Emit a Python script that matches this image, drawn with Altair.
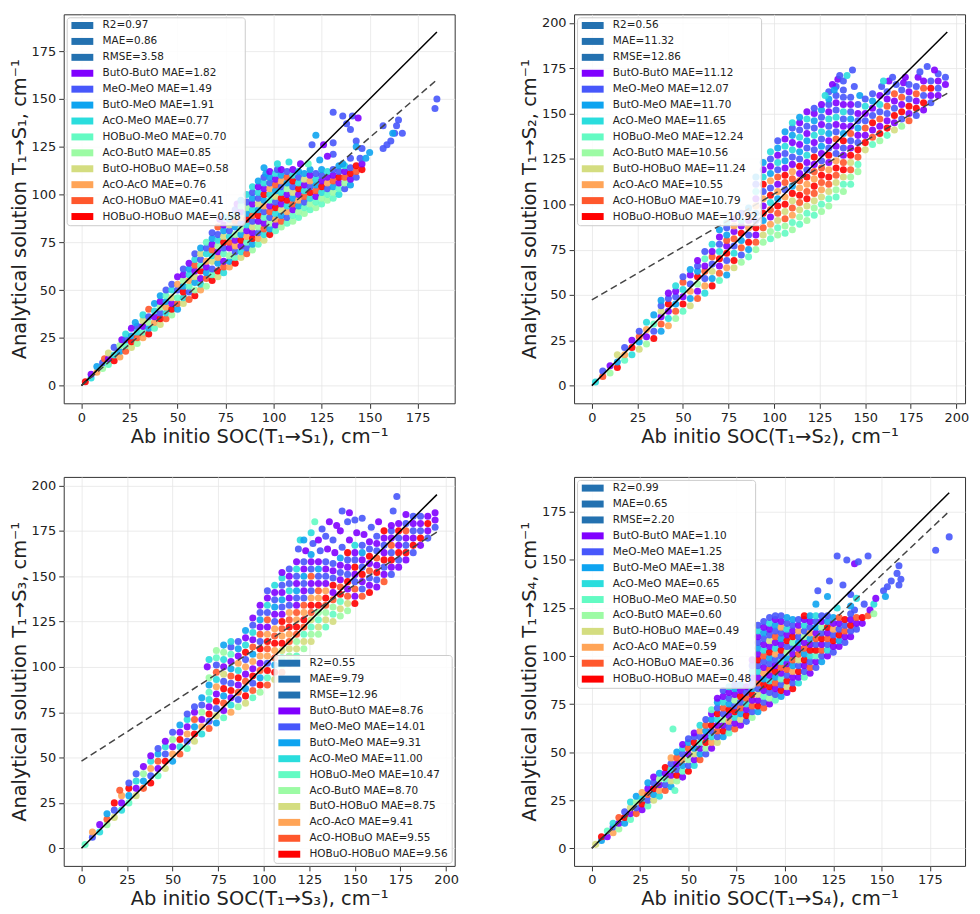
import altair as alt
import pandas as pd

FONT = "DejaVu Sans"

GROUPS = ["ButO-ButO", "MeO-MeO", "ButO-MeO", "AcO-MeO", "HOBuO-MeO",
          "AcO-ButO", "ButO-HOBuO", "AcO-AcO", "AcO-HOBuO", "HOBuO-HOBuO"]
GROUP_COLORS = ["#8000ff", "#4757fb", "#0ea4f0", "#2adddd", "#63fbc3",
                "#9cfba4", "#d4dd80", "#ffa457", "#ff572c", "#ff0000"]
STAT_COLOR = "#2371b0"

P1_STATS = ["R2=0.97", "MAE=0.86", "RMSE=3.58"]
P2_STATS = ["R2=0.56", "MAE=11.32", "RMSE=12.86"]
P3_STATS = ["R2=0.55", "MAE=9.79", "RMSE=12.96"]
P4_STATS = ["R2=0.99", "MAE=0.65", "RMSE=2.20"]

P1_MAE = ["1.82", "1.49", "1.91", "0.77", "0.70", "0.85", "0.58", "0.76", "0.41", "0.58"]
P2_MAE = ["11.12", "12.07", "11.70", "11.65", "12.24", "10.56", "11.24", "10.55", "10.79", "10.92"]
P3_MAE = ["8.76", "14.01", "9.31", "11.00", "10.47", "8.70", "8.75", "9.41", "9.55", "9.56"]
P4_MAE = ["1.10", "1.25", "1.38", "0.65", "0.50", "0.60", "0.49", "0.59", "0.36", "0.48"]

X_TITLES = ["Ab initio SOC(T\u2081\u2192S\u2081), cm\u207b\u00b9", "Ab initio SOC(T\u2081\u2192S\u2082), cm\u207b\u00b9",
            "Ab initio SOC(T\u2081\u2192S\u2083), cm\u207b\u00b9", "Ab initio SOC(T\u2081\u2192S\u2084), cm\u207b\u00b9"]
Y_TITLES = ["Analytical solution T\u2081\u2192S\u2081, cm\u207b\u00b9", "Analytical solution T\u2081\u2192S\u2082, cm\u207b\u00b9",
            "Analytical solution T\u2081\u2192S\u2083, cm\u207b\u00b9", "Analytical solution T\u2081\u2192S\u2084, cm\u207b\u00b9"]

TICKS_175 = [0, 25, 50, 75, 100, 125, 150, 175]
TICKS_200 = [0, 25, 50, 75, 100, 125, 150, 175, 200]

DOM1 = [-9.25, 194.25]
DOM2 = [-9.75, 204.75]
DOM3 = [-9.75, 204.75]
DOM4 = [-9.2, 193.2]

# identity line end and linear fit (dashed) end points per panel
SOLID1 = ([0, 185], [0, 185]); DASH1 = ([0, 185], [0, 160])
SOLID2 = ([0, 195], [0, 195]); DASH2 = ([0, 195], [47.3, 161.2])
SOLID3 = ([0, 195], [0, 195]); DASH3 = ([0, 195], [48, 174.4])
SOLID4 = ([0, 185], [0, 185]); DASH4 = ([0, 185], [0, 175.3])

# points: (ab initio, analytical, group index)
P1 = [
 (2,2,9),(5,4,3),(5,6,0),(8,7,7),(8,10,2),(11,9,5),(11,12,1),(12,14,8),
 (14,11,4),(14,14,0),(14,17,6),(17,13,9),(17,16,3),(17,20,1),
 (20,15,7),(20,18,2),(20,21,5),(21,24,0),(23,18,8),(23,21,4),(23,24,1),(23,27,3),
 (26,20,6),(26,23,9),(26,26,2),(26,30,0),(29,22,5),(29,25,8),(29,28,3),(29,31,1),(28,33,2),
 (32,25,7),(32,28,4),(32,31,0),(32,34,6),(32,37,3),(35,27,9),(35,30,2),(35,33,5),(35,36,1),(35,40,8),
 (38,30,4),(38,33,7),(38,36,0),(38,39,3),(38,43,2),(41,32,6),(41,35,9),(41,38,1),(41,41,5),(41,44,0),(41,47,2),
 (44,35,8),(44,38,3),(44,41,7),(44,44,2),(44,47,4),(44,50,1),(47,37,5),(47,40,9),(47,43,0),(47,46,6),(47,50,3),(47,53,1),
 (50,40,2),(50,43,8),(50,46,4),(50,50,1),(50,53,7),(50,57,0),
 (53,43,6),(53,46,3),(53,49,9),(53,52,2),(53,55,5),(53,58,0),(53,61,1),
 (56,45,8),(56,49,1),(56,52,4),(56,55,7),(56,58,3),(56,61,2),(56,64,0),
 (59,47,9),(59,50,5),(59,54,2),(59,57,6),(59,60,0),(59,63,8),(59,66,3),(59,69,1),
 (62,50,7),(62,53,3),(62,56,0),(62,60,9),(62,63,4),(62,66,1),(62,69,6),(62,72,2),
 (65,52,5),(65,56,8),(65,59,2),(65,62,0),(65,65,7),(65,69,3),(65,72,1),(65,75,4),
 (68,55,9),(68,58,4),(68,61,1),(68,65,6),(68,68,3),(68,71,8),(68,74,0),(68,77,2),(68,80,1),
 (71,57,6),(71,60,9),(71,64,2),(71,67,7),(71,70,0),(71,73,5),(71,76,3),(71,79,1),(71,83,8),(72,87,0),
 (74,59,3),(74,62,8),(74,65,0),(74,69,4),(74,72,1),(74,75,9),(74,78,6),(74,81,2),(74,84,0),(75,88,3),
 (77,62,7),(77,65,2),(77,68,5),(77,72,0),(77,75,8),(77,78,3),(77,81,1),(77,84,6),(77,87,2),
 (80,64,9),(80,67,4),(80,70,1),(80,73,7),(80,76,0),(80,79,5),(80,83,2),(80,86,8),(80,89,3),(80,92,1),(81,95,0),
 (83,67,6),(83,70,3),(83,73,0),(83,76,9),(83,79,2),(83,82,5),(83,85,1),(83,88,7),(83,91,0),(83,94,4),(83,97,2),
 (86,69,8),(86,72,1),(86,75,4),(86,78,7),(86,81,0),(86,84,3),(86,87,9),(86,90,2),(86,93,5),(86,96,1),(86,100,3),
 (89,71,5),(89,74,2),(89,77,9),(89,80,0),(89,83,6),(89,86,1),(89,89,8),(89,92,3),(89,95,0),(89,98,2),(89,101,1),(89,104,3),
 (92,74,4),(92,77,7),(92,80,1),(92,83,5),(92,86,0),(92,89,9),(92,92,2),(92,95,6),(92,98,1),(92,101,3),(92,104,0),(92,107,2),
 (95,76,6),(95,79,3),(95,82,8),(95,85,0),(95,88,4),(95,91,1),(95,94,7),(95,97,2),(95,100,9),(95,103,0),(95,106,3),(95,109,1),(96,111,2),
 (98,79,9),(98,82,2),(98,85,5),(98,88,1),(98,91,8),(98,94,0),(98,97,4),(98,100,3),(98,103,7),(98,106,1),(98,109,2),(98,112,0),
 (101,81,4),(101,84,0),(101,87,7),(101,90,3),(101,93,9),(101,96,1),(101,99,6),(101,102,2),(101,105,8),(101,108,0),(101,111,3),(102,113,1),
 (104,83,5),(104,86,8),(104,89,2),(104,92,6),(104,95,0),(104,98,9),(104,101,3),(104,104,1),(104,107,7),(104,110,2),(104,113,0),
 (107,85,4),(107,88,1),(107,91,7),(107,94,3),(107,97,9),(107,100,0),(107,103,5),(107,106,2),(107,109,8),(107,112,1),
 (110,86,5),(110,89,4),(110,92,0),(110,95,8),(110,98,2),(110,101,6),(110,104,1),(110,107,9),(110,110,3),(110,113,0),
 (113,88,4),(113,91,5),(113,94,2),(113,97,7),(113,100,0),(113,103,9),(113,106,3),(113,109,1),(113,112,2),
 (116,90,5),(116,93,4),(116,96,1),(116,99,8),(116,102,3),(116,105,0),(116,108,6),(116,111,2),
 (119,92,4),(119,95,5),(119,98,3),(119,101,9),(119,104,1),(119,107,7),(119,110,0),(119,113,2),
 (122,93,5),(122,96,4),(122,99,0),(122,102,8),(122,105,2),(122,108,3),(122,111,1),
 (125,95,4),(125,98,5),(125,101,3),(125,104,9),(125,107,0),(125,110,1),(125,113,2),
 (128,97,5),(128,100,4),(128,103,1),(128,106,7),(128,109,0),(128,112,3),
 (131,98,4),(131,101,5),(131,104,2),(131,107,8),(131,110,0),(131,113,1),
 (134,100,3),(134,103,4),(134,106,0),(134,109,9),(134,112,1),(134,115,2),
 (137,103,1),(137,106,5),(137,109,8),(137,112,0),(137,115,3),
 (140,105,2),(140,108,0),(140,111,9),(140,114,1),(143,109,1),(143,112,8),(143,115,9),(146,113,9),(146,116,0),
 (131,143,1),(136,141,1),(141,141,1),(144,140,0),(138,137,1),(140,134,1),(122,131,2),(120,126,1),(126,126,0),
 (131,127,1),(143,128,1),(143,125,2),(146,124,1),(150,122,2),(157,124,1),(159,126,1),(161,128,1),(163,132,1),
 (167,132,1),(162,132,2),(157,136,1),(164,136,1),(165,139,1),(184,145,1),(185,150,1),(108,117,3),(131,121,1),
 (136,116,2),(145,119,1),(124,118,2),(128,120,0),(140,119,1),(148,119,2),(118,116,4),(114,116,0),(102,116,3),(95,114,2),
]

P2 = [
 (2,2,3),(6,5,8),(6,8,1),(10,7,5),(10,11,0),(14,10,9),(14,13,2),(14,17,6),
 (18,14,4),(18,17,7),(18,21,1),(22,17,3),(22,21,9),(22,25,0),
 (26,20,6),(26,24,2),(26,27,8),(26,30,1),(30,23,5),(30,27,0),(30,31,7),(30,35,3),
 (34,26,9),(34,30,1),(34,34,4),(34,39,2),(38,30,2),(38,34,8),(38,38,0),(38,41,6),(38,44,1),(38,47,2),
 (42,33,7),(42,37,3),(42,41,0),(42,45,9),(42,48,1),(42,51,0),(46,37,5),(46,41,8),(46,45,2),(46,49,1),(46,52,0),(46,55,3),
 (50,41,4),(50,45,9),(50,49,0),(50,53,3),(50,57,8),(50,60,1),(54,44,6),(54,48,2),(54,52,7),(54,56,1),(54,61,0),(54,64,2),
 (58,48,8),(58,52,0),(58,56,5),(58,60,9),(58,63,2),(58,66,1),(58,69,0),
 (62,51,3),(62,55,7),(62,59,1),(62,63,8),(62,66,0),(62,70,4),(62,74,1),
 (66,55,9),(66,59,2),(66,63,6),(66,67,1),(66,71,8),(66,74,0),(66,78,3),
 (70,58,4),(70,62,8),(70,66,0),(70,70,9),(70,74,3),(70,78,1),(70,82,0),(70,86,2),
 (74,61,2),(74,65,7),(74,69,1),(74,73,9),(74,77,0),(74,80,8),(74,83,2),(74,87,1),(74,90,3),
 (78,65,6),(78,69,9),(78,73,3),(78,77,1),(78,81,8),(78,85,0),(78,88,7),(78,92,0),
 (82,68,5),(82,72,1),(82,76,8),(82,80,2),(82,84,9),(82,88,0),(82,91,3),(82,95,1),
 (86,71,4),(86,75,2),(86,79,9),(86,83,1),(86,87,7),(86,91,0),(86,94,8),(86,98,2),
 (90,75,5),(90,79,8),(90,83,0),(90,87,9),(90,91,1),(90,95,2),(90,99,7),(90,103,0),(90,107,3),(90,111,1),(90,115,2),
 (94,79,5),(94,83,6),(94,87,8),(94,91,2),(94,95,9),(94,99,0),(94,103,7),(94,107,1),(94,111,9),(94,115,3),(94,119,0),(94,123,2),
 (98,81,4),(98,85,5),(98,89,7),(98,93,0),(98,97,8),(98,101,3),(98,105,9),(98,109,1),(98,113,7),(98,117,2),(98,121,0),(98,125,1),(98,129,3),
 (102,83,5),(102,87,4),(102,91,6),(102,95,8),(102,99,9),(102,103,2),(102,107,7),(102,111,0),(102,115,8),(102,119,1),(102,123,3),(102,127,0),(102,131,2),(102,135,1),
 (106,84,4),(106,88,5),(106,92,8),(106,96,6),(106,100,9),(106,104,7),(106,108,1),(106,112,8),(106,116,9),(106,120,0),(106,124,2),(106,128,1),(106,132,3),(106,136,0),(106,140,2),
 (110,86,5),(110,90,4),(110,94,7),(110,98,8),(110,102,6),(110,106,9),(110,110,2),(110,114,8),(110,118,7),(110,122,0),(110,126,1),(110,130,3),(110,134,0),(110,138,2),(110,142,1),(110,145,3),
 (114,89,4),(114,93,5),(114,97,6),(114,101,8),(114,105,9),(114,109,7),(114,113,8),(114,117,0),(114,121,9),(114,125,1),(114,129,2),(114,133,0),(114,137,3),(114,141,1),(114,145,0),(114,148,2),
 (118,91,5),(118,95,4),(118,99,6),(118,103,9),(118,107,8),(118,111,7),(118,115,9),(118,119,1),(118,123,0),(118,127,3),(118,131,1),(118,135,2),(118,139,0),(118,143,1),(118,147,3),(118,151,0),
 (122,94,4),(122,98,5),(122,102,6),(122,106,8),(122,110,9),(122,114,7),(122,118,8),(122,122,0),(122,126,9),(122,130,1),(122,134,0),(122,138,3),(122,142,1),(122,146,2),(122,150,0),(122,153,1),
 (126,96,5),(126,100,4),(126,104,6),(126,108,7),(126,112,8),(126,116,9),(126,120,8),(126,124,1),(126,128,0),(126,132,2),(126,136,1),(126,140,3),(126,144,0),(126,148,1),(126,152,2),(126,155,0),
 (130,99,5),(130,103,4),(130,107,6),(130,111,8),(130,115,9),(130,119,7),(130,123,0),(130,127,9),(130,131,1),(130,135,0),(130,139,2),(130,143,1),(130,147,3),(130,151,0),(130,155,1),(130,158,2),
 (134,104,4),(134,108,5),(134,112,6),(134,116,8),(134,120,9),(134,124,7),(134,128,1),(134,132,0),(134,136,8),(134,140,1),(134,144,0),(134,148,3),(134,152,1),(134,156,0),(134,160,1),(134,165,1),(135,169,0),
 (138,107,5),(138,111,4),(138,115,6),(138,119,9),(138,123,8),(138,127,0),(138,131,1),(138,135,9),(138,139,2),(138,143,0),(138,147,1),(138,151,3),(138,155,0),(138,159,1),(138,163,1),(138,168,1),
 (142,111,4),(142,115,5),(142,119,8),(142,123,6),(142,127,9),(142,131,0),(142,135,1),(142,139,8),(142,143,0),(142,147,2),(142,151,1),(142,155,0),(142,159,1),(143,174,1),
 (146,118,5),(146,122,4),(146,126,8),(146,130,9),(146,134,1),(146,138,0),(146,142,2),(146,146,1),(146,150,0),(146,155,1),(147,160,2),
 (150,130,6),(150,134,9),(150,138,0),(150,142,8),(150,146,1),(150,150,0),(150,154,3),(150,158,1),
 (154,133,4),(154,137,8),(154,141,0),(154,145,9),(154,149,1),(154,153,0),(154,157,2),(154,161,1),
 (158,135,5),(158,139,9),(158,143,0),(158,147,8),(158,151,1),(158,155,3),(158,160,0),(159,165,1),
 (162,138,4),(162,142,9),(162,146,0),(162,150,1),(162,154,8),(162,158,0),(162,162,1),(163,168,0),
 (166,141,6),(166,145,0),(166,149,9),(166,153,1),(166,157,0),(166,161,8),(167,166,1),
 (170,143,5),(170,147,1),(170,151,9),(170,155,0),(170,159,8),(170,163,1),(171,167,0),
 (174,146,8),(174,150,0),(174,154,9),(174,158,1),(174,162,0),(174,166,1),
 (178,149,1),(178,153,9),(178,157,0),(178,161,8),(178,165,1),(179,170,0),
 (182,152,0),(182,156,9),(182,160,1),(182,164,8),(182,168,0),(184,176,1),
 (186,156,1),(186,160,0),(186,164,9),(186,168,1),(190,160,0),(190,164,1),(190,168,0),(190,172,1),(194,166,0),(194,170,1),
 (130,162,1),(132,166,0),(136,171,1),(140,171,3),(133,163,2),(144,165,1),(128,160,3),(160,168,3),(165,170,1),(172,170,0),(180,173,1),(188,174,0),
]

P3 = [
 (2,2,4),(6,6,1),(6,9,7),(10,9,3),(10,13,0),(14,13,5),(14,16,8),(14,19,2),
 (18,17,6),(18,21,1),(18,25,9),(22,21,3),(22,25,0),(22,29,7),(21,32,8),
 (26,25,4),(26,29,2),(26,33,9),(26,36,1),(30,29,6),(30,33,0),(30,37,3),(30,41,1),
 (34,33,8),(34,37,2),(34,41,5),(34,45,0),(38,36,9),(38,40,1),(38,44,7),(38,48,3),(38,51,0),
 (42,40,4),(42,44,0),(42,48,8),(42,52,2),(42,55,1),(46,44,6),(46,48,9),(46,52,1),(46,56,3),(46,59,0),
 (50,48,2),(50,52,7),(50,56,0),(50,60,5),(50,64,1),(54,52,8),(54,56,3),(54,60,9),(54,64,0),(54,68,2),
 (58,55,4),(58,59,1),(58,63,7),(58,67,0),(58,71,3),(58,74,1),(62,59,6),(62,63,9),(62,67,2),(62,71,8),(62,75,0),(62,78,1),
 (66,63,3),(66,67,7),(66,71,0),(66,75,5),(66,79,1),(66,83,2),
 (70,66,8),(70,70,1),(70,74,9),(70,78,0),(70,82,3),(70,86,4),(70,90,2),(70,94,5),(69,100,0),(70,104,3),
 (74,69,2),(74,73,6),(74,77,1),(74,81,9),(74,85,0),(74,89,7),(74,93,3),(74,97,8),(74,101,1),(74,105,4),(74,109,5),
 (78,72,4),(78,76,0),(78,80,8),(78,84,2),(78,88,9),(78,92,1),(78,96,6),(78,100,0),(78,104,3),(78,108,5),(78,112,2),
 (82,75,7),(82,79,3),(82,83,0),(82,87,9),(82,91,1),(82,95,8),(82,99,2),(82,103,0),(82,107,4),(82,111,1),(82,114,3),
 (86,78,5),(86,82,1),(86,86,8),(86,90,0),(86,94,9),(86,98,3),(86,102,7),(86,106,0),(86,110,2),(86,114,1),
 (90,80,6),(90,84,9),(90,88,2),(90,92,8),(90,96,0),(90,100,7),(90,104,1),(90,108,9),(90,112,3),(90,116,0),(90,120,2),
 (94,83,4),(94,87,8),(94,91,1),(94,95,9),(94,99,0),(94,103,7),(94,107,2),(94,111,8),(94,115,0),(94,119,3),(94,123,1),(94,127,0),
 (98,86,5),(98,90,9),(98,94,2),(98,98,8),(98,102,0),(98,106,7),(98,110,9),(98,114,1),(98,118,8),(98,122,0),(98,126,2),(98,130,1),(98,134,0),
 (102,90,8),(102,94,4),(102,98,9),(102,102,1),(102,106,7),(102,110,8),(102,114,9),(102,118,7),(102,122,0),(102,126,8),(102,130,1),(102,134,3),(102,138,0),(102,142,1),
 (106,93,6),(106,97,9),(106,101,2),(106,105,8),(106,109,7),(106,113,9),(106,117,8),(106,121,7),(106,125,1),(106,129,0),(106,133,2),(106,137,1),(106,141,0),(106,145,3),
 (110,97,8),(110,101,5),(110,105,4),(110,109,6),(110,113,9),(110,117,7),(110,121,8),(110,125,9),(110,129,0),(110,133,1),(110,137,2),(110,141,0),(110,145,1),(110,149,3),(110,152,0),
 (114,102,9),(114,106,5),(114,110,6),(114,114,8),(114,118,7),(114,122,9),(114,126,8),(114,130,7),(114,134,1),(114,138,0),(114,142,3),(114,146,1),(114,150,0),(114,154,1),
 (118,106,4),(118,110,6),(118,114,5),(118,118,8),(118,122,9),(118,126,7),(118,130,8),(118,134,0),(118,138,1),(118,142,2),(118,146,0),(118,150,1),(118,154,3),(118,158,0),(119,165,1),(120,170,3),
 (122,110,5),(122,114,6),(122,118,4),(122,122,8),(122,126,9),(122,130,7),(122,134,8),(122,138,1),(122,142,0),(122,146,1),(122,150,2),(122,154,0),(122,158,1),(123,164,0),(122,170,2),
 (126,114,6),(126,118,5),(126,122,4),(126,126,6),(126,130,8),(126,134,9),(126,138,7),(126,142,1),(126,146,0),(126,150,8),(126,154,1),(126,158,0),(126,162,2),(127,168,1),(126,174,3),(128,180,4),
 (130,118,5),(130,122,6),(130,126,4),(130,130,5),(130,134,9),(130,138,7),(130,142,8),(130,146,0),(130,150,1),(130,154,2),(130,158,0),(131,164,1),(130,170,0),(132,176,1),
 (134,122,4),(134,126,6),(134,130,5),(134,134,8),(134,138,9),(134,142,7),(134,146,0),(134,150,1),(134,154,0),(134,158,1),(135,165,0),(134,172,1),(136,180,0),
 (138,125,6),(138,129,4),(138,133,5),(138,137,8),(138,141,0),(138,145,9),(138,149,1),(138,153,0),(138,157,1),(139,163,0),(138,170,1),(140,178,0),
 (142,128,5),(142,132,6),(142,136,4),(142,140,9),(142,144,8),(142,148,0),(142,152,1),(142,156,0),(142,160,2),(143,166,1),(142,175,0),(143,186,1),
 (146,131,5),(146,135,6),(146,139,8),(146,143,0),(146,147,9),(146,151,1),(146,155,0),(146,159,1),(146,163,9),(147,170,0),(146,180,1),(147,185,0),
 (150,135,9),(150,139,0),(150,143,8),(150,147,1),(150,151,0),(150,155,9),(150,159,1),(150,163,0),(150,167,3),(151,174,0),(150,181,1),
 (154,139,8),(154,143,1),(154,147,0),(154,151,9),(154,155,1),(154,159,0),(154,163,2),(154,167,1),(155,173,0),(154,182,1),
 (158,141,9),(158,145,0),(158,149,1),(158,153,8),(158,157,0),(158,161,9),(158,165,1),(158,169,0),(159,177,1),
 (162,144,0),(162,148,1),(162,152,9),(162,156,0),(162,160,8),(162,164,1),(162,168,0),(162,172,1),(163,180,0),
 (166,147,8),(166,151,0),(166,155,1),(166,159,9),(166,163,0),(166,167,1),(166,171,0),(166,175,9),
 (170,151,1),(170,155,0),(170,159,9),(170,163,1),(170,167,8),(170,171,0),(170,175,1),(170,178,0),(171,186,1),
 (174,155,0),(174,159,1),(174,163,9),(174,167,0),(174,171,1),(174,175,9),(174,179,0),(173,194,1),
 (178,159,0),(178,163,9),(178,167,1),(178,171,0),(178,175,8),(178,179,1),(178,184,0),
 (182,163,1),(182,167,9),(182,171,0),(182,175,1),(182,179,0),(182,183,1),
 (186,167,0),(186,171,9),(186,175,1),(186,179,0),(186,183,1),(190,171,1),(190,175,0),(190,179,9),(190,183,0),
 (194,177,1),(194,181,0),(194,185,0),
]

P4 = [
 (2,2,6),(5,4,2),(5,6,9),(8,6,0),(8,9,4),(11,8,7),(11,11,1),(11,13,3),(14,10,5),(14,13,0),(14,16,8),
 (17,13,2),(17,16,9),(17,19,1),(20,15,4),(20,18,0),(20,21,6),(20,24,3),(23,18,8),(23,21,1),(23,24,5),(23,27,2),
 (26,20,0),(26,23,9),(26,26,3),(26,29,7),(29,22,4),(29,25,1),(29,28,8),(29,31,0),(29,34,2),
 (32,25,6),(32,28,2),(32,31,9),(32,34,1),(32,37,0),(35,27,3),(35,30,7),(35,33,0),(35,36,5),(35,39,2),
 (38,30,8),(38,33,1),(38,36,4),(38,39,0),(38,42,9),(41,32,2),(41,35,6),(41,38,0),(41,41,3),(41,44,1),(41,47,7),
 (44,35,5),(44,38,9),(44,41,1),(44,44,0),(44,47,8),(44,50,2),(47,37,0),(47,40,4),(47,43,2),(47,46,7),(47,49,1),(47,52,3),(47,54,0),
 (50,40,9),(50,43,1),(50,46,5),(50,49,0),(50,52,8),(50,55,2),(50,57,1),(53,43,3),(53,46,0),(53,49,6),(53,52,2),(53,55,9),(53,58,1),(53,60,0),
 (56,46,8),(56,49,2),(56,52,0),(56,55,4),(56,58,1),(56,61,7),(56,64,3),(59,49,1),(59,52,5),(59,55,9),(59,58,0),(59,61,2),(59,64,8),(59,67,1),
 (62,52,0),(62,55,7),(62,58,3),(62,61,1),(62,64,9),(62,67,2),(62,70,0),(62,72,4),
 (65,55,6),(65,58,1),(65,61,8),(65,64,0),(65,67,3),(65,70,9),(65,73,1),(65,76,2),(65,78,0),
 (68,58,2),(68,61,9),(68,64,0),(68,67,5),(68,70,1),(68,73,8),(68,76,3),(68,79,0),(68,82,1),
 (71,60,4),(71,63,1),(71,66,7),(71,69,0),(71,72,9),(71,75,2),(71,78,1),(71,81,0),(71,84,3),
 (74,62,8),(74,65,0),(74,68,3),(74,71,9),(74,74,1),(74,77,5),(74,80,0),(74,83,2),(74,85,1),
 (77,64,0),(77,67,6),(77,70,2),(77,73,8),(77,76,1),(77,79,9),(77,82,0),(77,85,2),
 (80,66,1),(80,69,9),(80,72,0),(80,75,3),(80,78,8),(80,81,1),(80,84,0),
 (83,68,5),(83,71,1),(83,74,8),(83,77,0),(83,80,9),(83,83,2),(83,86,1),(83,89,0),(83,92,3),(83,95,1),(83,98,0),
 (86,71,2),(86,74,9),(86,77,0),(86,80,6),(86,83,1),(86,86,8),(86,89,0),(86,92,3),(86,95,1),(86,98,9),(86,101,0),(86,104,2),(86,107,1),(86,110,0),(86,113,3),(86,116,1),
 (89,73,8),(89,76,1),(89,79,4),(89,82,0),(89,85,9),(89,88,2),(89,91,7),(89,94,0),(89,97,1),(89,100,8),(89,103,3),(89,106,0),(89,109,1),(89,112,2),(89,115,0),(89,118,1),
 (92,75,0),(92,78,5),(92,81,1),(92,84,9),(92,87,3),(92,90,0),(92,93,8),(92,96,1),(92,99,2),(92,102,9),(92,105,0),(92,108,6),(92,111,1),(92,114,0),(92,117,3),(92,120,1),
 (95,77,4),(95,80,1),(95,83,0),(95,86,8),(95,89,2),(95,92,9),(95,95,0),(95,98,1),(95,101,7),(95,104,3),(95,107,0),(95,110,8),(95,113,1),(95,116,2),(95,119,0),(95,121,1),
 (98,79,2),(98,82,9),(98,85,1),(98,88,4),(98,91,0),(98,94,8),(98,97,3),(98,100,1),(98,103,9),(98,106,0),(98,109,2),(98,112,1),(98,115,7),(98,118,0),(98,121,1),
 (101,81,0),(101,84,6),(101,87,9),(101,90,1),(101,93,8),(101,96,0),(101,99,2),(101,102,5),(101,105,1),(101,108,9),(101,111,0),(101,114,3),(101,117,1),(101,120,2),
 (104,83,9),(104,86,1),(104,89,0),(104,92,7),(104,95,2),(104,98,8),(104,101,0),(104,104,1),(104,107,4),(104,110,9),(104,113,0),(104,116,1),(104,119,2),
 (107,86,3),(107,89,0),(107,92,9),(107,95,1),(107,98,6),(107,101,8),(107,104,0),(107,107,2),(107,110,1),(107,113,7),(107,116,0),(107,119,1),
 (110,89,4),(110,92,1),(110,95,0),(110,98,9),(110,101,2),(110,104,8),(110,107,0),(110,110,5),(110,113,1),(110,116,3),(110,119,0),(110,121,9),
 (113,91,0),(113,94,8),(113,97,1),(113,100,3),(113,103,9),(113,106,0),(113,109,2),(113,112,7),(113,115,1),(113,118,0),(113,121,2),
 (116,94,1),(116,97,0),(116,100,4),(116,103,9),(116,106,1),(116,109,8),(116,112,0),(116,115,2),(116,118,1),(116,121,3),
 (119,97,2),(119,100,1),(119,103,8),(119,106,0),(119,109,9),(119,112,1),(119,115,5),(119,118,0),(119,121,1),
 (122,100,0),(122,103,3),(122,106,1),(122,109,8),(122,112,0),(122,115,9),(122,118,2),(122,121,1),
 (125,102,1),(125,105,0),(125,108,9),(125,111,1),(125,114,7),(125,117,0),(125,120,2),
 (128,105,0),(128,108,2),(128,111,9),(128,114,1),(128,117,0),(128,120,8),
 (131,107,1),(131,110,0),(131,113,8),(131,116,1),(131,119,9),(134,110,0),(134,113,1),(134,116,9),(134,119,0),(134,122,1),
 (137,114,1),(137,117,0),(137,120,8),(140,117,0),(140,120,9),(143,121,8),
 (127,152,1),(132,150,1),(136,148,0),(138,149,1),(143,152,1),(117,134,1),(123,139,1),(130,137,1),(122,131,2),
 (116,127,2),(141,127,1),(146,127,3),(147,130,0),(153,136,1),(151,134,1),(152,131,2),(159,147,1),(158,143,1),
 (160,140,1),(155,139,1),(159,137,1),(178,155,1),(185,162,1),(134,132,1),(137,130,3),(127,125,3),(136,124,1),
 (42,62,4),(43,30,4),(144,124,0),(146,122,5),(134,126,2),
]

W, H = 393, 391
RECT = "M-3.14,-1H3.14V1H-3.14Z"


def panel(points, mae, stats, dom, ticks, xt, yt, solid, dash, orient):
    labels = [f"{g} MAE={m}" for g, m in zip(GROUPS, mae)]
    df = pd.DataFrame(points, columns=["x", "y", "g"])
    df["label"] = [labels[i] for i in df["g"]]
    df["order"] = list(range(len(df)))
    domain = stats + labels
    rng = [STAT_COLOR] * 3 + GROUP_COLORS
    xenc = alt.X("x:Q", scale=alt.Scale(domain=dom, nice=False, zero=False),
                 axis=alt.Axis(values=ticks, title=xt))
    yenc = alt.Y("y:Q", scale=alt.Scale(domain=dom, nice=False, zero=False),
                 axis=alt.Axis(values=ticks, title=yt))
    pts = alt.Chart(df).mark_circle(size=50, opacity=0.9).encode(
        x=xenc, y=yenc,
        color=alt.Color("label:N", scale=alt.Scale(domain=domain, range=rng), title=None,
                        legend=alt.Legend(orient=orient, symbolType=RECT, symbolSize=49,
                                          symbolOffset=7.5, labelOffset=15, symbolOpacity=1)),
        order=alt.Order("order:Q"),
    )
    sdf = pd.DataFrame({"x": solid[0], "y": solid[1]})
    ddf = pd.DataFrame({"x": dash[0], "y": dash[1]})
    s_line = alt.Chart(sdf).mark_line(color="black", strokeWidth=1.5).encode(x=xenc, y=yenc)
    d_line = alt.Chart(ddf).mark_line(color="#444444", strokeWidth=1.5, strokeDash=[7, 4]).encode(x=xenc, y=yenc)
    return alt.layer(pts, s_line, d_line).properties(width=W, height=H)


c1 = panel(P1, P1_MAE, P1_STATS, DOM1, TICKS_175, X_TITLES[0], Y_TITLES[0], SOLID1, DASH1, "top-left")
c2 = panel(P2, P2_MAE, P2_STATS, DOM2, TICKS_200, X_TITLES[1], Y_TITLES[1], SOLID2, DASH2, "top-left")
c3 = panel(P3, P3_MAE, P3_STATS, DOM3, TICKS_200, X_TITLES[2], Y_TITLES[2], SOLID3, DASH3, "bottom-right")
c4 = panel(P4, P4_MAE, P4_STATS, DOM4, TICKS_175, X_TITLES[3], Y_TITLES[3], SOLID4, DASH4, "top-left")

chart = alt.concat(c1, c2, c3, c4, columns=2, spacing=alt.RowColnumber(row=74, column=120),
                   bounds="flush").resolve_scale(color="independent").properties(
    padding={"left": 0, "top": 3, "right": 2, "bottom": 2}, background="white"
).configure_view(stroke="#333333", strokeWidth=1).configure_axis(
    labelFont=FONT, labelFontSize=13, labelColor="#222222",
    titleFont=FONT, titleFontSize=19.5, titleFontWeight="normal", titleColor="#222222",
    grid=True, gridColor="#e6e6e6", gridWidth=0.8, domain=False,
    tickColor="#333333", tickSize=5, labelPadding=3,
).configure_axisX(titlePadding=3).configure_axisY(titlePadding=2).configure_legend(
    labelFont=FONT, labelFontSize=10.5, labelColor="#222222", labelLimit=300,
    fillColor="rgba(255,255,255,0.85)", strokeColor="#cccccc", cornerRadius=3,
    padding=3, rowPadding=5, offset=3, symbolStrokeWidth=0,
)

chart.save("out.html", embed_options={"renderer": "svg", "actions": False})
